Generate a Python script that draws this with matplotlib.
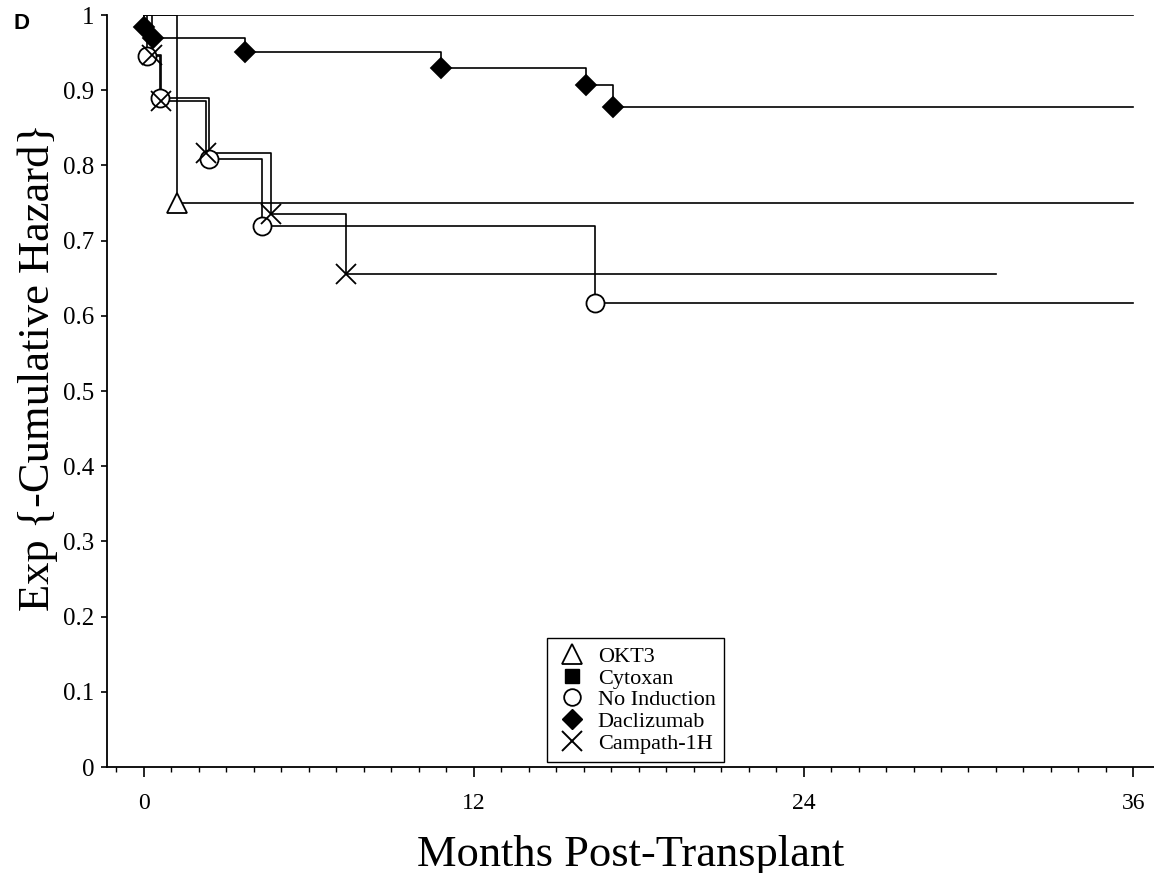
import matplotlib
matplotlib.use("Agg")
import matplotlib.pyplot as plt
from matplotlib.lines import Line2D
from matplotlib.ticker import MultipleLocator, FixedLocator

# event times (months) and survival estimates after each event
okt3_t = [1.19]
okt3_v = [0.750]
okt3_end = 36

cytoxan_t = []
cytoxan_v = []
cytoxan_end = 36

noind_t = [0.1, 0.6, 2.37, 4.28, 16.4]
noind_v = [0.945, 0.889, 0.808, 0.719, 0.617]
noind_end = 36

dacl_t = [0.02, 0.34, 3.67, 10.8, 16.1, 17.05]
dacl_v = [0.984, 0.969, 0.951, 0.930, 0.907, 0.878]
dacl_end = 36

camp_t = [0.28, 0.62, 2.25, 4.64, 7.35]
camp_v = [0.947, 0.885, 0.816, 0.736, 0.655]
camp_end = 31

y_ticks = [0, 0.1, 0.2, 0.3, 0.4, 0.5, 0.6, 0.7, 0.8, 0.9, 1]
y_tick_labels = ["0", "0.1", "0.2", "0.3", "0.4", "0.5", "0.6", "0.7", "0.8", "0.9", "1"]
x_ticks = [0, 12, 24, 36]

plt.rcParams['font.family'] = ['Liberation Serif', 'DejaVu Serif']

fig = plt.figure(figsize=(11.54, 8.73), dpi=100)
ax = fig.add_axes([0.0927, 0.1214, 0.9073, 0.8614])

lw = 1.2


def km_curve(times, vals, end, marker, ms, face):
    xs = [0] + list(times) + [end]
    ys = [1] + list(vals) + [vals[-1] if vals else 1]
    ax.step(xs, ys, where='post', color='black', lw=lw, zorder=2)
    if times:
        ax.plot(times, vals, linestyle='none', marker=marker, ms=ms,
                markerfacecolor=face, markeredgecolor='black', mew=1.3, zorder=3)


km_curve(cytoxan_t, cytoxan_v, cytoxan_end, 's', 11, 'black')
km_curve(okt3_t, okt3_v, okt3_end, '^', 14, 'white')
km_curve(noind_t, noind_v, noind_end, 'o', 13, 'white')
km_curve(dacl_t, dacl_v, dacl_end, 'D', 10, 'black')
km_curve(camp_t, camp_v, camp_end, 'x', 15, 'black')

ax.set_xlim(-1.345, 36.75)
ax.set_ylim(0, 1)

ax.spines['top'].set_visible(False)
ax.spines['right'].set_visible(False)
ax.spines['left'].set_linewidth(1.3)
ax.spines['bottom'].set_linewidth(1.3)

ax.yaxis.set_major_locator(FixedLocator(y_ticks))
ax.set_yticklabels(y_tick_labels)
ax.xaxis.set_major_locator(FixedLocator(x_ticks))
ax.xaxis.set_minor_locator(MultipleLocator(1))

ax.tick_params(axis='y', direction='out', length=4, width=1.2, labelsize=18, pad=5)
ax.tick_params(axis='x', which='major', direction='out', length=7, width=1.2,
               labelsize=17, pad=12)
ax.tick_params(axis='x', which='minor', direction='out', length=3.5, width=1.0)

ax.set_xlabel("Months Post-Transplant", fontsize=32, labelpad=15)
ax.set_ylabel("Exp {-Cumulative Hazard}", fontsize=32)
ax.yaxis.set_label_coords(-0.047, 0.532)

handles = [
    Line2D([], [], linestyle='none', marker='^', ms=14, markerfacecolor='white',
           markeredgecolor='black', mew=1.3),
    Line2D([], [], linestyle='none', marker='s', ms=9.5, markerfacecolor='black',
           markeredgecolor='black'),
    Line2D([], [], linestyle='none', marker='o', ms=12, markerfacecolor='white',
           markeredgecolor='black', mew=1.3),
    Line2D([], [], linestyle='none', marker='D', ms=10, markerfacecolor='black',
           markeredgecolor='black'),
    Line2D([], [], linestyle='none', marker='x', ms=14, markeredgecolor='black', mew=1.4),
]
labels = ["OKT3", "Cytoxan", "No Induction", "Daclizumab", "Campath-1H"]
leg = ax.legend(handles, labels, loc='lower left', bbox_to_anchor=(0.42, 0.007),
                borderaxespad=0, fontsize=16, handlelength=1.49, handletextpad=0.44,
                borderpad=0.37, labelspacing=0.05, fancybox=False, framealpha=1,
                edgecolor='black')
leg.get_frame().set_linewidth(1.0)

fig.text(0.0113, 0.9668, "D", family='Liberation Sans', fontweight='bold',
         fontsize=16, va='baseline', ha='left')

fig.savefig("out.png", dpi=100)
